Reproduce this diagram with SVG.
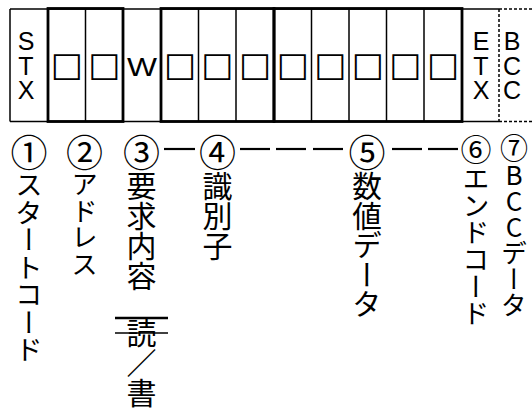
<svg xmlns="http://www.w3.org/2000/svg" width="532" height="412" viewBox="0 0 532 412">
<style>
.thin{fill:none;stroke:#000;stroke-width:1.5}
.thick{fill:none;stroke:#000;stroke-width:2.8}
.dash{fill:none;stroke:#000;stroke-width:1.5;stroke-dasharray:3 2}
.lat{font-family:"Liberation Sans",Arial,sans-serif;font-size:25px;fill:#000;text-anchor:middle}
.vl{font-family:"Liberation Sans",Arial,sans-serif;font-size:25px;fill:#000;writing-mode:vertical-rl;text-orientation:upright;letter-spacing:-3.4px}
.sq{font-family:"DejaVu Sans",sans-serif;font-size:34px;fill:#000;text-anchor:middle}
.v{font-family:"Noto Sans CJK JP",sans-serif;fill:#000;writing-mode:vertical-rl;text-orientation:upright}
.conn line{stroke:#000;stroke-width:2.2}
</style>
<rect width="532" height="412" fill="#fff"/>
<g id="frame">
<line class="thin" x1="10" y1="9" x2="499" y2="9"/>
<line class="thin" x1="10" y1="121.5" x2="499" y2="121.5"/>
<line class="dash" x1="499" y1="9" x2="532" y2="9"/>
<line class="dash" x1="499" y1="121.5" x2="532" y2="121.5"/>
<line class="dash" x1="499" y1="9" x2="499" y2="121.5"/>
<line class="thin" x1="10" y1="9" x2="10" y2="121.5"/>
<line class="thin" x1="85.5" y1="9" x2="85.5" y2="121.5"/>
<line class="thin" x1="198.5" y1="9" x2="198.5" y2="121.5"/>
<line class="thin" x1="236" y1="9" x2="236" y2="121.5"/>
<line class="thin" x1="311.5" y1="9" x2="311.5" y2="121.5"/>
<line class="thin" x1="349" y1="9" x2="349" y2="121.5"/>
<line class="thin" x1="386.5" y1="9" x2="386.5" y2="121.5"/>
<line class="thin" x1="424" y1="9" x2="424" y2="121.5"/>
<rect class="thick" x="48" y="8.5" width="75" height="113"/>
<rect class="thick" x="161" y="8.5" width="113" height="113"/>
<rect class="thick" x="274" y="8.5" width="188" height="113"/>
</g>
<g id="stx"><text class="vl" x="26" y="27.3">STX</text></g>
<g id="addr"><text class="sq" x="66.75" y="76">□</text><text class="sq" x="104.25" y="76">□</text></g>
<g id="req"><text class="lat" x="142" y="76" textLength="30" lengthAdjust="spacingAndGlyphs" font-size="23">W</text></g>
<g id="ident"><text class="sq" x="180" y="76">□</text><text class="sq" x="217.25" y="76">□</text><text class="sq" x="255" y="76">□</text></g>
<g id="data"><text class="sq" x="292.75" y="76">□</text><text class="sq" x="330.25" y="76">□</text><text class="sq" x="367.75" y="76">□</text><text class="sq" x="405.25" y="76">□</text><text class="sq" x="443" y="76">□</text></g>
<g id="etx"><text class="vl" x="481" y="27.3">ETX</text></g>
<g id="bcc"><text class="vl" x="512" y="27.3">BCC</text></g>
<g id="label1"><text class="v" x="29" y="134" font-size="27.5"><tspan style="font-size:37px">①</tspan>スタートコード</text></g>
<g id="label2"><text class="v" x="84.5" y="134" font-size="26.5"><tspan style="font-size:37px">②</tspan>アドレス</text></g>
<g id="label3"><text class="v" x="141.5" y="134" font-size="30"><tspan style="font-size:37px">③</tspan>要求内容</text>
<line x1="115" y1="318" x2="168" y2="318" stroke="#000" stroke-width="2.5"/>
<line x1="115" y1="333" x2="168" y2="333" stroke="#000" stroke-width="1.5"/>
<text class="v" x="141.5" y="318" font-size="30">読／書</text></g>
<g id="label4"><text class="v" x="217.5" y="134" font-size="30"><tspan style="font-size:37px">④</tspan>識別子</text></g>
<g id="label5"><text class="v" x="367" y="134" font-size="29.6"><tspan style="font-size:37px">⑤</tspan>数値データ</text></g>
<g id="label6"><text class="v" x="476" y="134" font-size="27"><tspan style="font-size:31px">⑥</tspan>エンドコード</text></g>
<g id="label7"><text class="v" x="514" y="134" font-size="26"><tspan style="font-size:28px">⑦</tspan>BCCデータ</text></g>
<g id="connectors" class="conn">
<line x1="164" y1="149" x2="195" y2="149"/>
<line x1="240" y1="149" x2="270" y2="149"/>
<line x1="276" y1="149" x2="306" y2="149"/>
<line x1="313" y1="149" x2="343" y2="149"/>
<line x1="392" y1="149" x2="422" y2="149"/>
<line x1="428" y1="149" x2="458" y2="149"/>
</g>
</svg>
